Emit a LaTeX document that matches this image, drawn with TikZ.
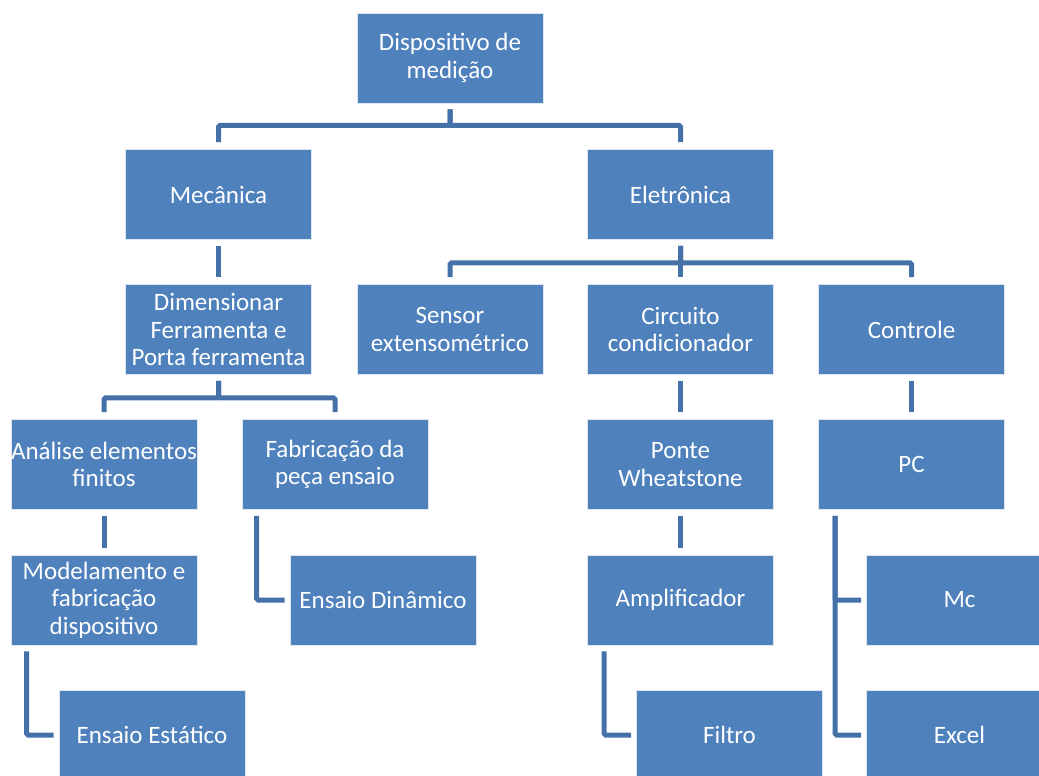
\documentclass[tikz,border=0pt]{standalone}
\usepackage{fontspec}
\setmainfont{Carlito}
\definecolor{boxblue}{RGB}{79,129,189}
\definecolor{lineblue}{RGB}{68,114,168}
\tikzset{
  box/.style={rectangle, fill=boxblue, draw=white!80!boxblue, line width=0.8pt,
    minimum width=186pt, minimum height=90pt, inner sep=0pt, align=center,
    text=white, font=\fontsize{25}{27.5}\selectfont},
  conn/.style={draw=lineblue, line width=5pt, shorten <=6pt, shorten >=7pt, rounded corners=1.5pt},
  elbow/.style={draw=lineblue, line width=5pt, shorten <=6pt, shorten >=5pt, rounded corners=1.5pt}
}
\begin{document}
\begin{tikzpicture}[x=1pt,y=-1pt]
\useasboundingbox (0,0) rectangle (1039,776);
\clip (0,0) rectangle (1039,776);
\node[box] (top) at (450,58) {Dispositivo de\\medição};
\node[box] (mec) at (218.5,194.5) {Mecânica};
\node[box] (ele) at (680.5,194.5) {Eletrônica};
\node[box] (dim) at (218.5,329.5) {Dimensionar\\Ferramenta e\\Porta ferramenta};
\node[box] (sen) at (450,329.5) {Sensor\\extensométrico};
\node[box] (cir) at (680.5,329.5) {Circuito\\condicionador};
\node[box] (con) at (911.5,329.5) {Controle};
\node[box] (ana) at (104,464.5) {Análise elementos\\finitos};
\node[box] (fab) at (335,464.5) {Fabricação da\\peça ensaio};
\node[box] (pon) at (680.5,464.5) {Ponte\\Wheatstone};
\node[box] (pc) at (911.5,464.5) {PC};
\node[box] (mod) at (104,600) {Modelamento e\\fabricação\\dispositivo};
\node[box] (dyn) at (383,600) {Ensaio Dinâmico};
\node[box] (amp) at (680.5,600) {Amplificador};
\node[box] (mc) at (959.5,600) {Mc};
\node[box] (est) at (152,735) {Ensaio Estático};
\node[box] (fil) at (729.5,735) {Filtro};
\node[box] (exc) at (959.5,735) {Excel};
% connectors
\draw[conn] (top.south) -- ++(0,22) -| (mec.north);
\draw[conn] (top.south) -- ++(0,22) -| (ele.north);
\draw[conn] (mec.south) -- (dim.north);
\draw[conn] (ele.south) -- ++(0,23) -| (sen.north);
\draw[conn] (ele.south) -- ++(0,23) -| (cir.north);
\draw[conn] (ele.south) -- ++(0,23) -| (con.north);
\draw[conn] (dim.south) -- ++(0,23) -| (ana.north);
\draw[conn] (dim.south) -- ++(0,23) -| (fab.north);
\draw[conn] (cir.south) -- (pon.north);
\draw[conn] (con.south) -- (pc.north);
\draw[conn] (ana.south) -- (mod.north);
\draw[conn] (pon.south) -- (amp.north);
\draw[elbow] ([xshift=15pt]fab.south west) |- (dyn.west);
\draw[elbow] ([xshift=16pt]mod.south west) |- (est.west);
\draw[elbow] ([xshift=17pt]amp.south west) |- (fil.west);
\draw[elbow] ([xshift=17pt]pc.south west) |- (mc.west);
\draw[elbow] ([xshift=17pt]pc.south west) |- (exc.west);
\end{tikzpicture}
\end{document}
